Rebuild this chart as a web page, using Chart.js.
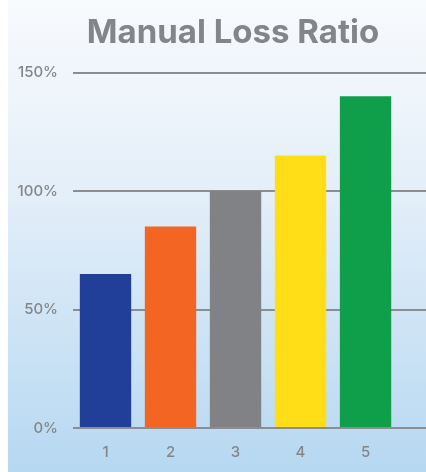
<!DOCTYPE html>
<html>
<head>
<meta charset="utf-8">
<script src="https://cdn.jsdelivr.net/npm/chart.js@4"></script>
<style>
  html, body { margin: 0; padding: 0; background: #ffffff; }
  #wrap {
    position: relative;
    width: 426px;
    height: 472px;
  }
  /* panel behind the chart, pale at the top and light blue at the bottom */
  #panel {
    position: absolute;
    left: 8px; top: 0; right: 0; bottom: 0;
    background: linear-gradient(to bottom, #f8fafd 0%, #e4eff9 40%, #b6d8f1 100%);
  }
  canvas { position: absolute; left: 0; top: 0; }
</style>
</head>
<body>
<div id="wrap">
  <div id="panel"></div>
  <canvas id="lossChart" width="426" height="472"></canvas>
</div>
<script>
// Loss ratio per period (%)
const periods = [1, 2, 3, 4, 5];
const lossRatios = [65, 85, 100, 115, 140];
const barColors = ['#213f99', '#f26522', '#808285', '#ffdd17', '#0f9f4a'];
const yTicks = [0, 50, 100, 150];

const textGray = '#838588';
const tickFont = { family: 'Inter', size: 15, weight: '500' };

// nudge the title so it sits over the bars rather than the whole canvas
const titleShift = {
    id: 'titleShift',
    afterLayout(chart) {
        if (chart.titleBlock) chart.titleBlock.left += 32;
    }
};

const ctx = document.getElementById('lossChart').getContext('2d');

new Chart(ctx, {
    type: 'bar',
    data: {
        datasets: [{
            label: 'Manual Loss Ratio',
            data: periods.map((p, i) => ({ x: p, y: lossRatios[i] })),
            backgroundColor: barColors,
            borderWidth: 0,
            barPercentage: 0.79,
            categoryPercentage: 1
        }]
    },
    options: {
        responsive: false,
        animation: false,
        layout: {
            padding: { left: 8, right: 0, top: 0, bottom: 0 }
        },
        plugins: {
            legend: { display: false },
            tooltip: { enabled: false },
            title: {
                display: true,
                text: 'Manual Loss Ratio',
                color: textGray,
                font: { family: 'Inter', size: 33, weight: 'bold' },
                padding: { top: 13, bottom: 20 }
            }
        },
        scales: {
            x: {
                type: 'linear',
                offset: false,
                min: 0.5,
                max: 5.93,
                grid: { display: false, drawTicks: false },
                border: { display: false },
                afterBuildTicks: scale => {
                    scale.ticks = periods.map(p => ({ value: p }));
                },
                afterFit: scale => { scale.height = 44; },
                ticks: {
                    color: textGray,
                    padding: 15,
                    font: tickFont
                }
            },
            y: {
                min: 0,
                max: 150,
                afterFit: scale => { scale.width = 65; },
                afterBuildTicks: scale => {
                    scale.ticks = yTicks.map(v => ({ value: v }));
                },
                grid: {
                    color: '#8b8d90',
                    lineWidth: 2,
                    drawTicks: false
                },
                border: { display: false },
                ticks: {
                    color: textGray,
                    padding: 15,
                    font: tickFont,
                    callback: value => value + '%'
                }
            }
        }
    },
    plugins: [titleShift]
});
</script>
</body>
</html>
